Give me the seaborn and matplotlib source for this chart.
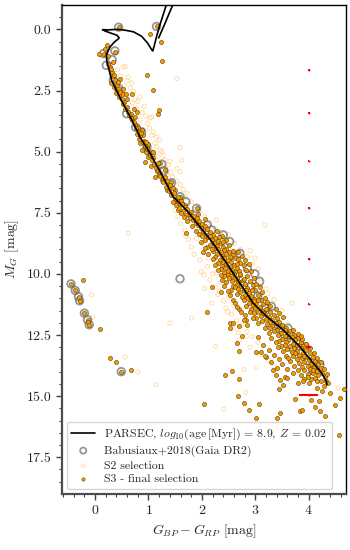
import numpy as np
import pandas as pd
import matplotlib
matplotlib.use('Agg')
import matplotlib.pyplot as plt
import seaborn as sns

# PARSEC isochrone (BP-RP, M_G), traced along the track
iso_color = [4.34, 4.33, 4.24, 4.08, 3.83, 3.52, 3.21, 2.96, 2.71, 2.46, 2.21, 1.96, 1.71, 1.46,
             1.25, 1.03, 0.84, 0.69, 0.49, 0.31, 0.22, 0.21, 0.22, 0.28, 0.36, 0.44, 0.45, 0.41,
             0.28, 0.19, 0.14, 0.25, 0.40, 0.53, 0.72, 0.87, 0.98, 1.06, 1.08, 1.11, 1.15, 1.21,
             1.33, 1.37, 1.42, 1.45, 1.30, 1.22, 1.19]
iso_mag = [14.53, 14.40, 14.05, 13.64, 12.97, 12.29, 11.74, 11.20, 10.38, 9.56, 8.75, 8.07, 7.39, 6.84,
           5.95, 5.07, 4.40, 3.71, 2.90, 2.08, 1.30, 1.00, 0.99, 0.72, 0.52, 0.38, 0.34, 0.24,
           0.14, 0.07, 0.01, 0.02, 0.00, 0.02, 0.10, 0.28, 0.55, 0.83, 0.88, 0.65, 0.30, -0.16,
           -0.98, -1.20, -1.25, -0.98, -0.20, 0.20, 0.35]

# Babusiaux+2018 (Gaia DR2) members
bab_points = [(0.44, -0.09), (1.15, -0.12), (0.37, 0.88), (0.32, 1.24), (0.21, 1.47), (0.34, 2.08),
              (0.59, 3.45), (0.87, 4.19), (0.97, 4.80), (1.25, 5.51), (1.29, 5.78), (1.43, 6.27),
              (1.59, 6.84), (1.90, 7.32), (2.40, 8.41), (2.52, 8.68), (2.71, 9.16), (2.85, 9.78),
              (2.99, 10.00), (3.08, 10.31), (3.30, 11.33), (3.42, 12.10), (3.46, 12.22), (3.61, 12.22),
              (3.64, 12.49), (3.77, 12.76), (3.93, 12.97), (4.21, 13.71), (1.59, 10.20), (-0.45, 10.41),
              (-0.37, 10.68), (-0.31, 10.93), (-0.29, 11.10), (-0.20, 11.61), (-0.14, 11.88),
              (-0.11, 12.08), (0.49, 14.00), (0.16, 0.99), (0.44, 2.42),
              (2.10, 8.00), (2.25, 8.70), (2.62, 9.50), (2.92, 10.50), (3.05, 10.90), (3.20, 11.40),
              (3.55, 12.50), (3.72, 13.10), (3.98, 13.55), (4.08, 13.95), (0.76, 4.00), (1.05, 5.10),
              (1.70, 7.05), (2.18, 8.20)]

# S2 selection
s2_points = [(0.53, 1.54), (0.57, 1.52), (0.62, 1.95), (0.69, 2.19), (1.53, 2.01), (0.84, 2.76),
             (0.75, 2.87), (0.92, 3.14), (1.06, 3.58), (1.03, 3.62), (1.09, 4.19), (1.06, 4.33),
             (1.15, 4.40), (1.21, 4.53), (1.59, 4.83), (1.15, 4.80), (1.18, 5.21), (1.25, 5.01),
             (1.31, 5.35), (1.37, 5.55), (1.53, 5.69), (1.59, 5.82), (1.62, 5.35), (1.42, 5.85),
             (0.60, 2.10), (0.66, 2.40), (0.72, 2.55), (0.80, 2.95), (0.88, 3.40), (0.95, 3.55),
             (0.98, 3.85), (1.02, 4.05), (1.12, 4.65), (1.22, 4.95), (1.28, 5.15), (1.35, 5.95),
             (1.45, 6.05), (1.52, 6.20), (1.60, 6.35), (1.65, 6.55), (1.72, 6.70), (1.68, 6.90),
             (1.80, 7.05), (0.48, 1.90), (0.55, 2.30), (0.42, 1.65), (0.70, 3.00), (0.78, 3.25),
             (0.85, 3.70), (1.40, 5.40),
             (2.27, 7.80), (3.18, 8.00), (1.95, 7.45), (2.05, 7.65), (2.15, 7.90), (2.25, 8.15),
             (2.35, 8.30), (2.50, 8.40), (2.60, 8.75), (2.55, 9.05), (2.72, 9.00), (2.85, 9.30),
             (2.95, 9.60), (3.05, 9.80), (1.96, 9.43), (1.99, 9.91), (1.80, 8.90), (1.85, 9.20),
             (1.75, 8.60), (1.68, 8.20), (1.60, 7.95), (1.55, 7.65), (1.50, 7.40), (2.10, 9.70),
             (2.20, 10.00), (0.62, 8.34), (2.04, 10.04), (1.70, 8.45), (2.00, 8.75), (1.90, 8.55),
             (2.15, 10.25), (2.25, 10.55), (2.30, 10.85), (2.40, 11.10), (2.45, 11.40), (2.55, 11.65),
             (2.65, 11.90), (2.75, 12.10), (2.85, 12.35), (2.95, 12.55), (3.05, 12.80), (2.35, 10.35),
             (2.50, 10.95), (2.60, 11.30), (1.81, 11.81), (1.40, 12.01), (2.26, 12.97), (2.83, 12.56),
             (3.68, 11.20), (3.20, 10.60), (3.10, 10.20), (3.35, 11.05), (3.50, 11.50), (3.60, 12.05),
             (3.75, 12.40), (2.70, 12.70), (2.90, 13.00), (3.10, 13.30), (3.25, 13.55), (3.35, 13.80),
             (2.79, 13.91), (3.02, 13.84), (2.82, 14.84), (1.14, 14.53), (0.56, 13.40), (0.80, 14.02),
             (-0.07, 10.86), (-0.04, 11.77), (2.41, 15.53), (2.52, 17.35), (3.36, 16.30), (3.46, 16.26),
             (3.05, 16.57), (3.16, 16.71), (4.55, 14.67), (2.18, 11.20), (2.05, 10.60), (3.24, 10.80),
             (1.88, 8.00), (2.02, 8.30), (2.12, 9.35), (2.28, 9.95), (2.33, 10.70), (2.48, 11.55),
             (2.58, 12.25), (2.68, 12.40), (1.62, 7.30), (1.78, 7.80), (2.90, 9.05), (3.00, 9.35)]

# S3 - final selection
s3_points = [
    # turn-off and upper main sequence
    (0.44, -0.09), (1.15, -0.13), (1.03, 0.18), (1.23, 0.52), (1.26, 1.29), (0.98, 1.85), (1.08, 2.46),
    (1.20, 3.28), (1.17, 3.48), (0.22, 0.65), (0.19, 0.79), (0.07, 0.99), (0.16, 0.99), (0.37, 0.93),
    (0.33, 1.33), (0.28, 1.54), (0.31, 1.74), (0.34, 1.92), (0.37, 2.08), (0.47, 2.04), (0.41, 2.29),
    (0.44, 2.42), (0.47, 2.56), (0.53, 2.65), (0.58, 2.65), (0.70, 2.65), (0.50, 2.83), (0.55, 2.97),
    (0.59, 3.17), (0.72, 3.24), (0.62, 3.37), (0.78, 3.37), (0.65, 3.55), (0.70, 3.70), (0.75, 3.90),
    (0.87, 4.12), (0.78, 4.26), (0.90, 4.30), (0.82, 4.50), (0.97, 4.80), (0.87, 4.94), (1.03, 5.07),
    (0.93, 5.42), (1.09, 5.28), (1.21, 5.48), (1.31, 5.76), (1.12, 6.03), (1.25, 6.16), (1.43, 6.23),
    (1.37, 6.44), (1.34, 6.57), (1.50, 6.57), (1.59, 6.84), (1.53, 6.98), (1.62, 7.11), (1.68, 7.20),
    (1.90, 7.32), (1.78, 7.52), (1.56, 7.39), (0.80, 4.00), (0.85, 4.65), (0.95, 5.00), (1.00, 5.20),
    (1.05, 5.60), (1.15, 5.80), (1.20, 5.95), (0.92, 4.55), (1.00, 4.70), (0.74, 3.60), (0.68, 3.45),
    (0.25, 1.10), (0.24, 1.40), (0.30, 1.62), (0.36, 1.85), (0.42, 2.15), (0.52, 2.45), (0.60, 2.85),
    (0.30, 2.20), (0.35, 2.35), (0.40, 2.60), (0.45, 2.75), (0.52, 3.05), (0.56, 3.25), (0.64, 3.50),
    (0.68, 3.62), (0.72, 3.80), (0.77, 4.05), (0.82, 4.20), (0.85, 4.38), (0.89, 4.60), (0.93, 4.75),
    (0.98, 4.90), (1.02, 5.15), (1.07, 5.35), (1.10, 5.50), (1.14, 5.65), (1.18, 5.75), (1.22, 5.88),
    (1.27, 6.10), (1.18, 5.45), (1.08, 5.02), (0.96, 4.62), (0.86, 4.25),
    # main sequence band, M_G 6-7
    (1.22, 6.00), (1.30, 6.05), (1.35, 6.20), (1.28, 6.25), (1.40, 6.35), (1.33, 6.45), (1.45, 6.50),
    (1.38, 6.60), (1.48, 6.70), (1.42, 6.78), (1.55, 6.85), (1.50, 6.95), (1.60, 7.00), (1.45, 7.05),
    # M_G 7-8
    (1.55, 7.10), (1.62, 7.15), (1.68, 7.25), (1.58, 7.30), (1.72, 7.35), (1.65, 7.42), (1.80, 7.45),
    (1.75, 7.55), (1.70, 7.60), (1.85, 7.62), (1.78, 7.70), (1.90, 7.72), (1.83, 7.80), (1.95, 7.85),
    (1.88, 7.90), (2.00, 7.95), (1.73, 7.85), (1.52, 7.20), (1.60, 7.50), (1.66, 7.68), (1.92, 7.55),
    (2.05, 7.75),
    # M_G 8-9
    (1.93, 8.00), (2.05, 8.05), (1.98, 8.12), (2.10, 8.18), (2.02, 8.25), (2.15, 8.30), (1.95, 8.35),
    (2.08, 8.40), (2.20, 8.42), (2.12, 8.50), (2.25, 8.55), (2.05, 8.60), (2.18, 8.62), (2.30, 8.65),
    (2.22, 8.72), (2.35, 8.75), (2.15, 8.80), (2.28, 8.85), (2.40, 8.90), (2.25, 8.95), (2.10, 8.90),
    (2.45, 8.60), (2.38, 8.45), (1.71, 8.34), (1.82, 8.05), (1.88, 8.25), (2.00, 8.45), (2.28, 8.25),
    (2.32, 8.50), (2.40, 8.70), (1.98, 8.70), (2.05, 8.95), (2.45, 8.98), (2.50, 8.80), (2.15, 8.45),
    # M_G 9-10
    (2.30, 9.00), (2.42, 9.02), (2.20, 9.08), (2.35, 9.12), (2.50, 9.10), (2.28, 9.18), (2.45, 9.20),
    (2.58, 9.20), (2.38, 9.25), (2.52, 9.30), (2.25, 9.30), (2.42, 9.35), (2.62, 9.35), (2.33, 9.42),
    (2.48, 9.45), (2.68, 9.40), (2.40, 9.50), (2.55, 9.52), (2.30, 9.55), (2.72, 9.55), (2.46, 9.60),
    (2.60, 9.62), (2.38, 9.68), (2.52, 9.70), (2.78, 9.65), (2.44, 9.75), (2.65, 9.78), (2.35, 9.80),
    (2.56, 9.83), (2.48, 9.88), (2.70, 9.88), (2.62, 9.92), (2.42, 9.95), (2.82, 9.85), (2.55, 9.98),
    (2.02, 9.09), (2.18, 9.00), (2.12, 9.20), (2.20, 9.40), (2.25, 9.62), (2.30, 9.85), (2.68, 9.10),
    (2.75, 9.25), (2.80, 9.45), (2.88, 9.60), (2.92, 9.90), (2.58, 9.05), (2.66, 9.60),
    # M_G 10-11
    (2.60, 10.00), (2.48, 10.05), (2.72, 10.05), (2.55, 10.10), (2.66, 10.15), (2.85, 10.10),
    (2.50, 10.18), (2.62, 10.22), (2.76, 10.25), (2.57, 10.30), (2.70, 10.32), (2.90, 10.30),
    (2.45, 10.35), (2.65, 10.40), (2.80, 10.42), (2.58, 10.48), (2.73, 10.50), (2.95, 10.45),
    (2.62, 10.55), (2.85, 10.58), (2.68, 10.62), (2.78, 10.68), (2.55, 10.65), (3.00, 10.65),
    (2.72, 10.75), (2.88, 10.78), (2.65, 10.82), (2.80, 10.85), (3.05, 10.85), (2.92, 10.92),
    (2.75, 10.95), (2.18, 10.52), (2.35, 10.75), (2.42, 10.10), (2.35, 10.05), (2.38, 10.25),
    (2.42, 10.50), (2.48, 10.70), (2.52, 10.88), (2.98, 10.15), (3.02, 10.40), (3.08, 10.55),
    (3.12, 10.75), (2.71, 10.00), (2.78, 10.20), (2.68, 10.30), (2.83, 10.65), (2.93, 10.65),
    (2.86, 10.95),
    # M_G 11-12
    (2.85, 11.00), (2.98, 11.02), (2.78, 11.08), (2.92, 11.12), (3.10, 11.05), (2.88, 11.18),
    (3.02, 11.20), (3.15, 11.25), (2.95, 11.28), (2.82, 11.30), (3.08, 11.35), (3.00, 11.40),
    (3.20, 11.42), (2.92, 11.45), (3.12, 11.50), (3.05, 11.55), (3.28, 11.55), (2.98, 11.60),
    (3.18, 11.65), (3.35, 11.68), (3.10, 11.72), (3.25, 11.75), (3.02, 11.80), (3.40, 11.80),
    (3.20, 11.85), (3.32, 11.90), (3.12, 11.92), (3.45, 11.95), (3.28, 11.98), (2.10, 11.54),
    (2.70, 11.45), (2.80, 11.70), (2.58, 11.05), (2.62, 11.20), (2.66, 11.35), (2.74, 11.55),
    (3.18, 10.98), (3.22, 11.15), (3.28, 11.30), (3.38, 11.45), (3.45, 11.60), (3.52, 11.75),
    (2.97, 11.10), (3.05, 11.08), (3.15, 11.60), (2.90, 11.55), (2.95, 11.80),
    # M_G 12-13
    (3.38, 12.02), (3.22, 12.05), (3.50, 12.08), (3.32, 12.12), (3.45, 12.18), (3.58, 12.20),
    (3.28, 12.22), (3.40, 12.28), (3.55, 12.30), (3.65, 12.35), (3.35, 12.35), (3.48, 12.42),
    (3.62, 12.45), (3.72, 12.48), (3.42, 12.52), (3.56, 12.55), (3.68, 12.60), (3.80, 12.62),
    (3.50, 12.65), (3.62, 12.70), (3.75, 12.72), (3.45, 12.75), (3.58, 12.80), (3.85, 12.80),
    (3.70, 12.85), (3.55, 12.90), (3.78, 12.92), (3.65, 12.95), (3.90, 12.95), (2.52, 12.01),
    (2.59, 12.01), (2.52, 12.22), (2.70, 12.15), (2.82, 11.90), (2.75, 12.55), (2.65, 12.83),
    (3.05, 12.60), (3.15, 12.90), (2.78, 11.90), (2.85, 12.10), (3.05, 12.00), (3.18, 12.20),
    (3.25, 12.40), (3.30, 12.62), (3.38, 12.80), (3.70, 12.30), (3.80, 12.45), (3.88, 12.65),
    (3.95, 12.85), (3.48, 12.95), (3.85, 12.55),
    # M_G 13-14.5
    (3.72, 13.02), (3.85, 13.05), (3.60, 13.08), (3.95, 13.10), (3.78, 13.15), (3.68, 13.20),
    (3.90, 13.22), (4.02, 13.25), (3.82, 13.30), (3.70, 13.35), (3.95, 13.38), (4.08, 13.40),
    (3.88, 13.45), (3.78, 13.50), (4.00, 13.52), (4.12, 13.55), (3.92, 13.60), (3.82, 13.65),
    (4.05, 13.68), (4.18, 13.70), (3.98, 13.75), (3.88, 13.80), (4.10, 13.82), (4.22, 13.85),
    (4.02, 13.90), (3.92, 13.95), (4.15, 13.98), (4.08, 14.05), (4.25, 14.05), (3.98, 14.10),
    (4.18, 14.15), (4.12, 14.25), (4.30, 14.22), (4.05, 14.30), (4.22, 14.38), (3.25, 13.10),
    (3.35, 13.30), (3.45, 13.50), (3.50, 13.70), (3.30, 13.60), (3.20, 13.40), (3.10, 13.20),
    (3.60, 13.90), (3.40, 13.85), (2.70, 13.17), (3.18, 13.37), (3.02, 13.20), (3.55, 14.20),
    (3.42, 13.00), (3.52, 13.15), (3.58, 13.35), (3.65, 13.55), (3.72, 13.75), (3.80, 13.95),
    (3.85, 14.15), (3.92, 14.30), (4.02, 13.05), (4.10, 13.25), (4.15, 13.45), (4.22, 13.62),
    (4.28, 13.90), (4.35, 14.10), (3.62, 13.45), (3.75, 13.25), (3.92, 13.35), (4.08, 13.95),
    (3.98, 14.20), (4.15, 14.40), (4.32, 14.38),
    # white dwarfs
    (-0.45, 10.41), (-0.37, 10.68), (-0.31, 10.93), (-0.29, 11.10), (-0.20, 11.61), (-0.14, 11.88),
    (-0.13, 11.98), (-0.11, 12.08), (-0.22, 10.27), (0.09, 12.24), (0.28, 13.44), (0.39, 13.62),
    (0.49, 14.00), (0.67, 13.93),
    # faint end
    (2.04, 15.32), (2.43, 14.12), (2.57, 13.96), (2.70, 14.30), (2.67, 14.98), (2.79, 15.28),
    (2.88, 15.55), (3.07, 15.32), (3.01, 15.89), (3.41, 15.89), (3.46, 15.71), (3.33, 13.92),
    (3.38, 14.15), (3.46, 14.33), (3.51, 14.53), (3.44, 14.71), (3.74, 15.12), (3.83, 15.62),
    (3.87, 15.55), (4.05, 15.14), (4.19, 15.21), (4.11, 15.44), (4.21, 15.62), (4.30, 15.82),
    (4.39, 14.87), (4.50, 15.35), (4.59, 15.07), (4.66, 14.71), (4.56, 16.61), (3.79, 14.46),
    (3.90, 14.40), (4.00, 14.45), (4.28, 14.60), (4.36, 14.45), (3.60, 14.25), (3.70, 14.05),
    (4.15, 14.65), (4.25, 14.80),
]

# median photometric errors per magnitude bin
err_color = [4.0, 4.0, 4.0, 4.0, 4.0, 4.0, 4.0, 4.0]
err_mag = [1.65, 3.40, 5.40, 7.30, 9.40, 11.25, 13.00, 14.95]
err_xerr = [0.005, 0.005, 0.006, 0.006, 0.008, 0.01, 0.05, 0.18]
err_yerr = [0.01, 0.01, 0.02, 0.02, 0.03, 0.03, 0.03, 0.03]

bab = pd.DataFrame(bab_points, columns=['bp_rp', 'mg'])
s2 = pd.DataFrame(s2_points, columns=['bp_rp', 'mg'])
s3 = pd.DataFrame(s3_points, columns=['bp_rp', 'mg'])
iso = pd.DataFrame({'bp_rp': iso_color, 'mg': iso_mag})

sns.set_style('ticks')
plt.rcParams['font.family'] = 'serif'
plt.rcParams['font.serif'] = ['cmr10', 'DejaVu Serif']
plt.rcParams['mathtext.fontset'] = 'cm'
plt.rcParams['axes.formatter.use_mathtext'] = True

fig = plt.figure(figsize=(3.5, 5.5), dpi=100)
ax = fig.add_axes([0.177, 0.102, 0.812, 0.889])

iso_label = r'PARSEC, $log_{10}$(age$\,$[Myr]) = 8.9, $Z$ = 0.02'

sns.scatterplot(data=s2, x='bp_rp', y='mg', ax=ax, s=9, facecolor='none',
                edgecolor='#ffc870', linewidth=0.6, alpha=0.7, label='S2 selection', zorder=1)
sns.scatterplot(data=bab, x='bp_rp', y='mg', ax=ax, s=30, facecolor='none',
                edgecolor='0.45', linewidth=1.3, alpha=0.75,
                label='Babusiaux+2018(Gaia DR2)', zorder=2)
sns.scatterplot(data=s3, x='bp_rp', y='mg', ax=ax, s=9, color='#f59b00',
                edgecolor='#4a3000', linewidth=0.35, label='S3 - final selection', zorder=3)
sns.lineplot(data=iso, x='bp_rp', y='mg', ax=ax, sort=False, estimator=None, color='k', lw=1.2,
             label=iso_label, zorder=4)
ax.errorbar(err_color, err_mag, xerr=err_xerr, yerr=err_yerr, fmt='o', ms=1.4, mew=0,
            color='red', ecolor='red', elinewidth=1.5, capsize=0, zorder=5)

ax.set_xlim(-0.62, 4.7)
ax.set_ylim(19.0, -1.0)
ax.set_xticks([0, 1, 2, 3, 4])
ax.set_yticks([0.0, 2.5, 5.0, 7.5, 10.0, 12.5, 15.0, 17.5])
ax.set_xticks(np.arange(-0.6, 4.7, 0.2), minor=True)
ax.set_yticks(np.arange(-0.5, 19.0, 0.5), minor=True)
ax.yaxis.set_major_formatter(matplotlib.ticker.FormatStrFormatter('%.1f'))
ax.tick_params(which='major', length=4, width=1.0, labelsize=10, color='0.25')
ax.tick_params(which='minor', length=2.2, width=0.8, color='0.25')
for side in ['left', 'bottom']:
    ax.spines[side].set_linewidth(1.6)
    ax.spines[side].set_color('0.3')
for side in ['top', 'right']:
    ax.spines[side].set_linewidth(1.0)
    ax.spines[side].set_color('k')

ax.set_xlabel(r'$G_{BP} - G_{RP}$ [mag]', fontsize=10)
ax.set_ylabel(r'$M_G$ [mag]', fontsize=10)

handles, labels = ax.get_legend_handles_labels()
order = [labels.index(l) for l in [iso_label, 'Babusiaux+2018(Gaia DR2)',
                                     'S2 selection', 'S3 - final selection']]
ax.legend([handles[i] for i in order], [labels[i] for i in order], loc='lower left',
          fontsize=8.5, frameon=True, fancybox=True, edgecolor='0.8', framealpha=0.8,
          handlelength=2.0, borderaxespad=0.4, labelspacing=0.3, markerscale=0.8)

fig.savefig('out.png', dpi=100)
